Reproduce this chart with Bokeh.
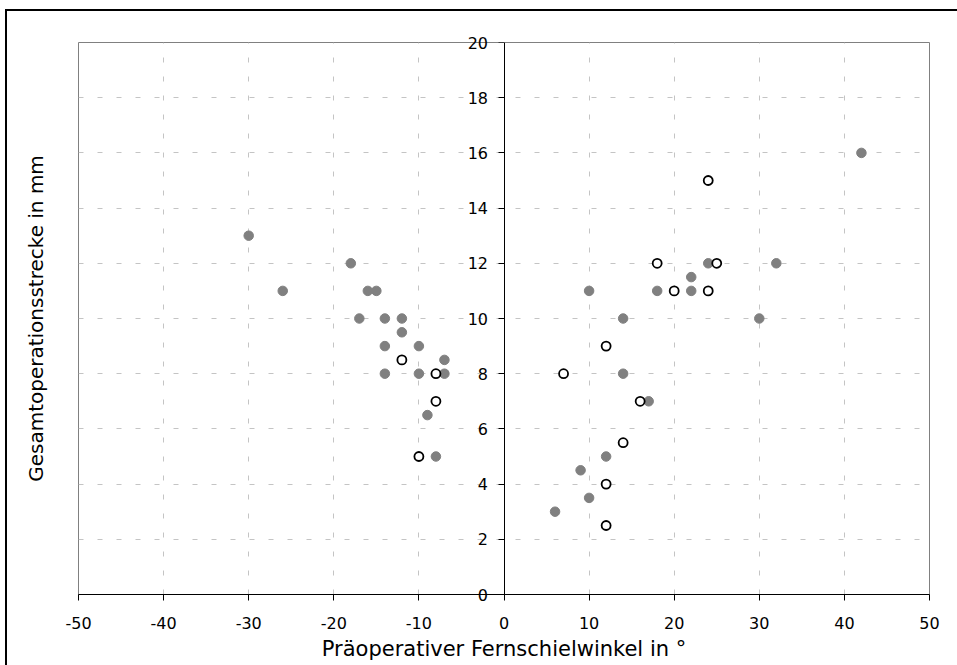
from bokeh.plotting import figure
from bokeh.models import (LinearAxis, FixedTicker, Grid, Range1d, Label, InlineStyleSheet)
from bokeh.embed import file_html
from bokeh.resources import INLINE

# ---- data ----
x_ticks = [-50, -40, -30, -20, -10, 0, 10, 20, 30, 40, 50]
y_ticks = [0, 2, 4, 6, 8, 10, 12, 14, 16, 18, 20]

filled_x = [-30, -18, -26, -16, -15, -17, -14, -12, -12, -14, -10, -7, -14, -10, -7, -9, -8,
            24, 32, 22, 10, 18, 22, 14, 30, 14, 17, 12, 9, 10, 6, 42]
filled_y = [13, 12, 11, 11, 11, 10, 10, 10, 9.5, 9, 9, 8.5, 8, 8, 8, 6.5, 5,
            12, 12, 11.5, 11, 11, 11, 10, 10, 8, 7, 5, 4.5, 3.5, 3, 16]

hollow_x = [-12, -8, -8, -10, 24, 18, 25, 20, 24, 12, 7, 16, 14, 12, 12]
hollow_y = [8.5, 8, 7, 5, 15, 12, 12, 11, 11, 9, 8, 7, 5.5, 4, 2.5]

x_title = "Präoperativer Fernschielwinkel in °"
y_title = "Gesamtoperationsstrecke in mm"

FONT = "DejaVu Sans"

p = figure(width=957, height=665, x_range=Range1d(-50, 50), y_range=Range1d(0, 20),
           output_backend="svg", toolbar_location=None,
           x_axis_location="below", y_axis_location=None,
           min_border_left=78, min_border_right=28, min_border_top=42, min_border_bottom=71)

p.background_fill_color = "white"
p.border_fill_color = "white"
p.outline_line_color = "#808080"
p.outline_line_width = 1

# outer chart border: only its left and top edges lie inside the picture
p.stylesheets = [InlineStyleSheet(css="""
:host::before {
  content: ""; position: absolute; left: 5px; top: 9px;
  width: 2px; height: 656px; background: #000; border: none;
  pointer-events: none; z-index: 10;
}
:host::after {
  content: ""; position: absolute; left: 5px; top: 9px;
  width: 952px; height: 2px; background: #000; border: none;
  pointer-events: none; z-index: 10;
}
""")]

# x axis (at y = 0, bottom of frame)
xa = p.xaxis[0]
xa.ticker = FixedTicker(ticks=x_ticks)
xa.major_label_overrides = {t: str(t) for t in x_ticks}
xa.axis_line_color = "black"
xa.major_tick_line_color = "black"
xa.major_tick_out = 6
xa.major_tick_in = 0
xa.minor_tick_line_color = None
xa.major_label_text_font = FONT
xa.major_label_text_font_size = "16px"
xa.major_label_text_color = "black"
xa.major_label_standoff = 16
xa.axis_label = x_title
xa.axis_label_text_font = FONT
xa.axis_label_text_font_size = "21px"
xa.axis_label_text_font_style = "normal"
xa.axis_label_text_color = "black"
xa.axis_label_standoff = 5

# grids (remove any default y grid, then add the dashed ones)
for g in p.ygrid:
    g.grid_line_color = None
p.xgrid.ticker = FixedTicker(ticks=x_ticks[1:-1])
p.xgrid.grid_line_color = "#c4c4c4"
p.xgrid.grid_line_dash = "5 14"
ygrid = Grid(dimension=1, ticker=FixedTicker(ticks=y_ticks[1:-1]),
             grid_line_color="#c4c4c4", grid_line_dash="5 14")
p.center.append(ygrid)

# y axis crossing at x = 0 (line and ticks)
ya = LinearAxis(fixed_location=0, ticker=FixedTicker(ticks=y_ticks))
ya.axis_line_color = "black"
ya.major_tick_line_color = "black"
ya.major_tick_out = 6
ya.major_tick_in = 0
ya.minor_tick_line_color = None
ya.major_label_overrides = {t: "" for t in y_ticks}
p.add_layout(ya, "left")

# y tick labels beside the crossing axis; the two at the frame edges go into
# side panels so that they are not clipped by the frame
for v in y_ticks:
    lab = Label(x=0, y=v, text=str(v), x_offset=-16,
                text_align="right", text_baseline="middle",
                text_font=FONT, text_font_size="16px", text_color="black")
    if v == y_ticks[-1]:
        p.add_layout(lab, "above")
    elif v == y_ticks[0]:
        p.add_layout(lab, "right")
    else:
        p.add_layout(lab)

# y-axis title holder
ta = LinearAxis(ticker=FixedTicker(ticks=[]))
ta.axis_line_color = None
ta.major_tick_line_color = None
ta.minor_tick_line_color = None
ta.major_tick_out = 0
ta.major_tick_in = 0
ta.axis_label = y_title
ta.axis_label_text_font = FONT
ta.axis_label_text_font_size = "20px"
ta.axis_label_text_font_style = "normal"
ta.axis_label_text_color = "black"
ta.axis_label_standoff = 31
p.add_layout(ta, "left")

# points
p.scatter(filled_x, filled_y, size=9.5, fill_color="#808080", line_color="#808080", line_width=1)
p.scatter(hollow_x, hollow_y, size=9, fill_color="white", line_color="black", line_width=1.8)

open("out.html", "w").write(file_html(p, INLINE))
